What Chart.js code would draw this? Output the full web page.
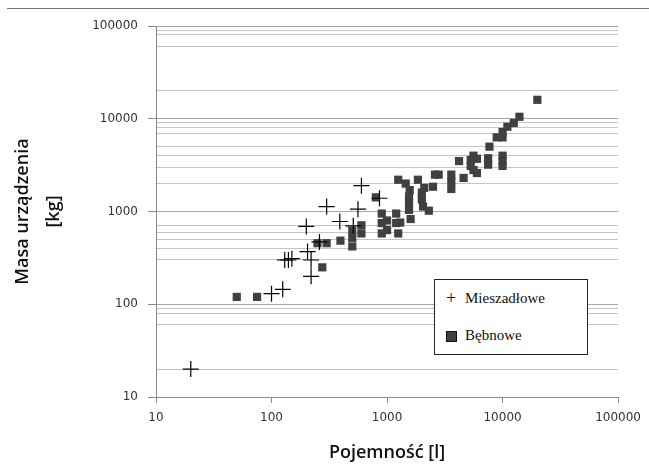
<!DOCTYPE html>
<html>
<head>
<meta charset="utf-8">
<script src="https://cdn.jsdelivr.net/npm/chart.js@4.4.1/dist/chart.umd.min.js"></script>
<style>
  html, body { margin: 0; padding: 0; background: #fff; }
  #wrap { position: relative; width: 649px; height: 466px; }
  #topline { position: absolute; left: 7px; right: 0; top: 8px; border-top: 1px solid #707070; }
  #legend {
    position: absolute; left: 434px; top: 279px; width: 152px; height: 74px;
    border: 1px solid #222; background: #fff;
    font-family: "Liberation Serif", "DejaVu Serif", serif; font-size: 15px; color: #111;
  }
  #legend .row { position: absolute; left: 0; height: 20px; line-height: 20px; }
  #legend .sym { position: absolute; left: 9px; width: 14px; text-align: center; }
  #legend .txt { position: absolute; left: 30px; white-space: nowrap; }
  #legend .sq { display: inline-block; width: 9px; height: 9px; background: #404040; border: 1px solid #111; vertical-align: middle; }
</style>
</head>
<body>
<div id="wrap">
  <canvas id="myChart" width="649" height="466"></canvas>
  <div id="topline"></div>
  <div id="legend">
    <div class="row" style="top:8px"><span class="sym" style="font-size:18px">+</span><span class="txt">Mieszadłowe</span></div>
    <div class="row" style="top:45px"><span class="sym"><span class="sq"></span></span><span class="txt">Bębnowe</span></div>
  </div>
</div>
<script>
// Mieszadłowe (krzyżyki)
var mieszadloweX = [20, 100, 125, 130, 140, 150, 200, 205, 220, 220, 260, 300, 390, 510, 560, 600, 860];
var mieszadloweY = [20, 130, 145, 300, 300, 310, 690, 370, 300, 200, 470, 1130, 780, 700, 1060, 1900, 1390];

// Bębnowe (kwadraty)
var bebnoweX = [50, 75, 250, 300, 275, 395, 500, 500, 500, 600, 600, 800, 900, 900, 900, 1000, 1000,
  1200, 1200, 1250, 1300, 1250, 1450, 1570, 1550, 1550, 1550, 1600, 1850, 2100, 2000, 2000, 2050, 2300,
  2500, 2600, 2800, 3600, 3600, 3600, 4200, 4600, 5600, 5300, 5300, 5600, 6000, 6000, 7500, 7500, 7700,
  8900, 10000, 10000, 11000, 10000, 10000, 10000, 12500, 14000, 20000];
var bebnoweY = [120, 120, 455, 455, 250, 485, 620, 520, 420, 710, 580, 1420, 950, 750, 580, 800, 630,
  950, 750, 580, 760, 2200, 2000, 1700, 1450, 1230, 1040, 830, 2200, 1800, 1600, 1350, 1130, 1020,
  1850, 2500, 2500, 2500, 2100, 1750, 3500, 2300, 4000, 3600, 3100, 2800, 2600, 3700, 3750, 3200, 5000,
  6300, 6300, 7200, 8200, 4000, 3500, 3100, 9000, 10500, 16000];

var xTicks = [10, 100, 1000, 10000, 100000];
var yTicks = [10, 100, 1000, 10000, 100000];
// linie siatki widoczne na oryginale
var yGrid = [20, 60, 80, 90, 100, 300, 400, 500, 600, 700, 1000, 2000, 3000, 4000, 5000, 7000, 8000, 9000,
  10000, 20000, 60000, 80000, 90000, 100000];

function pts(xs, ys) {
  return xs.map(function (x, i) { return { x: x, y: ys[i] }; });
}
function isMajor(v) { return yTicks.indexOf(v) >= 0; }

var ctx = document.getElementById('myChart');
new Chart(ctx, {
  type: 'scatter',
  data: {
    datasets: [{
      label: 'Mieszadłowe',
      data: pts(mieszadloweX, mieszadloweY),
      pointStyle: 'cross',
      pointRadius: 8,
      borderColor: '#000',
      borderWidth: 1.2
    }, {
      label: 'Bębnowe',
      data: pts(bebnoweX, bebnoweY),
      pointStyle: 'rect',
      pointRadius: 5.8,
      backgroundColor: '#404040',
      borderColor: '#404040',
      borderWidth: 0
    }]
  },
  options: {
    responsive: false,
    animation: false,
    layout: { padding: { top: 26, right: 30, left: 0, bottom: 0 } },
    plugins: { legend: { display: false }, tooltip: { enabled: false } },
    scales: {
      x: {
        type: 'logarithmic',
        min: 10, max: 100000,
        afterFit: function (s) { s.height = 69; },
        afterBuildTicks: function (s) { s.ticks = xTicks.map(function (v) { return { value: v }; }); },
        border: { color: '#8a8a8a', width: 1 },
        grid: { drawOnChartArea: false, tickLength: 6, color: '#8a8a8a' },
        ticks: {
          autoSkip: false, maxRotation: 0, padding: 8,
          color: '#333',
          font: { family: 'DejaVu Sans', size: 12 },
          callback: function (v) { return String(v); }
        },
        title: {
          display: true, text: 'Pojemność [l]', color: '#111',
          font: { family: 'Open Sans', size: 18, weight: '600', lineHeight: 1.2 },
          padding: { top: 0, bottom: 2 }
        }
      },
      y: {
        type: 'logarithmic',
        min: 10, max: 100000,
        afterFit: function (s) { s.width = 156; },
        afterBuildTicks: function (s) {
          var all = yTicks.concat(yGrid).filter(function (v, i, a) { return a.indexOf(v) === i; });
          all.sort(function (a, b) { return a - b; });
          s.ticks = all.map(function (v) { return { value: v }; });
        },
        border: { color: '#8a8a8a', width: 1 },
        grid: {
          tickLength: 8,
          color: function (c) {
            var v = c.tick ? c.tick.value : 0;
            if (yGrid.indexOf(v) < 0) return 'rgba(0,0,0,0)';
            return isMajor(v) ? '#a8a8a8' : '#c4c4c4';
          },
          tickColor: function (c) {
            var v = c.tick ? c.tick.value : 0;
            return isMajor(v) ? '#8a8a8a' : 'rgba(0,0,0,0)';
          }
        },
        ticks: {
          autoSkip: false, padding: 10,
          color: '#333',
          font: { family: 'DejaVu Sans', size: 12 },
          callback: function (v) { return isMajor(v) ? String(v) : ''; }
        },
        title: {
          display: true, text: ['Masa urządzenia', '[kg]'], color: '#111',
          font: { family: 'Open Sans', size: 18, weight: '600', lineHeight: 1.7 },
          padding: { top: 8, bottom: 0 }
        }
      }
    }
  }
});
</script>
</body>
</html>
